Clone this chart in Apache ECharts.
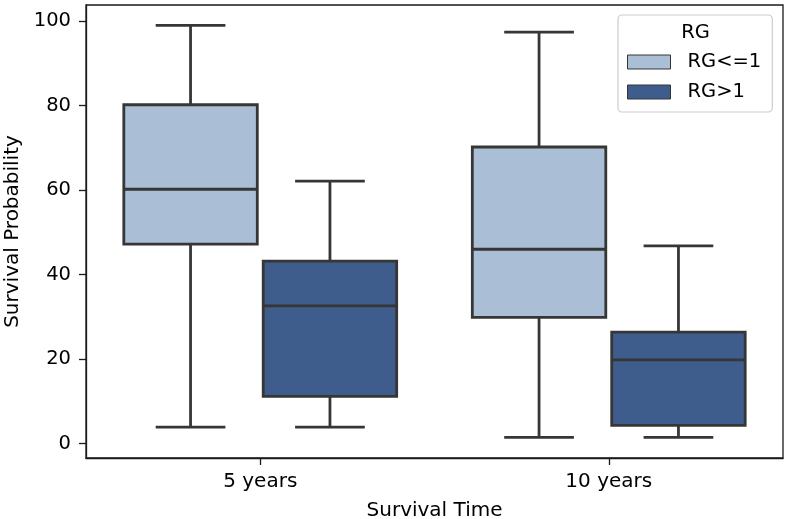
<!DOCTYPE html>
<html>
<head>
<meta charset="utf-8">
<script src="https://cdn.jsdelivr.net/npm/echarts@6/dist/echarts.min.js"></script>
<style>
html,body{margin:0;padding:0;background:#fff;}
#chart{width:787px;height:519px;}
</style>
</head>
<body>
<div id="chart"></div>
<script>
const categories = ['5 years', '10 years'];
const seriesNames = ['RG<=1', 'RG>1'];
// each entry: [lower whisker, Q1, median, Q3, upper whisker]
const rgLe1 = [[3.9, 47.2, 60.2, 80.2, 99.0], [1.5, 29.9, 46.0, 70.2, 97.4]];
const rgGt1 = [[3.9, 11.2, 32.6, 43.2, 62.1], [1.5, 4.3, 19.8, 26.4, 46.8]];
const yTicks = [0, 20, 40, 60, 80, 100];
const colors = ['#aabfd5', '#3f5d8c'];
const lineColor = '#363636';

const chart = echarts.init(document.getElementById('chart'), null, {renderer: 'canvas'});

function makeRender(offsetFrac) {
  return function (params, api) {
    const ci = api.value(0);
    const band = api.size([1, 0])[0];
    const cx = api.coord([ci, 0])[0] + offsetFrac * band;
    const yLo = api.coord([ci, api.value(1)])[1];
    const yQ1 = api.coord([ci, api.value(2)])[1];
    const yMd = api.coord([ci, api.value(3)])[1];
    const yQ3 = api.coord([ci, api.value(4)])[1];
    const yHi = api.coord([ci, api.value(5)])[1];
    const bw = band * 0.383;
    const cw = band * 0.2;
    const fill = api.visual('color');
    const ls = {stroke: lineColor, lineWidth: 2.8};
    const line = (x1, y1, x2, y2) => ({type: 'line', shape: {x1, y1, x2, y2}, style: ls});
    return {
      type: 'group',
      children: [
        line(cx, yQ3, cx, yHi),
        line(cx, yQ1, cx, yLo),
        line(cx - cw / 2, yHi, cx + cw / 2, yHi),
        line(cx - cw / 2, yLo, cx + cw / 2, yLo),
        {type: 'rect', shape: {x: cx - bw / 2, y: yQ3, width: bw, height: yQ1 - yQ3},
         style: {fill: fill, stroke: lineColor, lineWidth: 2.8}},
        line(cx - bw / 2, yMd, cx + bw / 2, yMd)
      ]
    };
  };
}

function toData(arr) {
  return arr.map((d, i) => [i].concat(d));
}

const fontFamily = 'DejaVu Sans';

chart.setOption({
  animation: false,
  backgroundColor: '#fff',
  textStyle: {fontFamily: fontFamily},
  grid: {
    left: 86, top: 5, right: 4, bottom: 61,
    containLabel: false,
    outerBoundsMode: 'none',
    show: true, borderColor: '#1a1a1a', borderWidth: 1.3, backgroundColor: 'transparent'
  },
  xAxis: {
    type: 'category',
    data: categories,
    boundaryGap: true,
    name: 'Survival Time',
    nameLocation: 'middle',
    nameGap: 43,
    nameTextStyle: {fontSize: 20, color: '#000', fontFamily: fontFamily},
    axisLine: {show: true, onZero: false, lineStyle: {color: '#1a1a1a', width: 1.3}},
    axisTick: {show: true, alignWithLabel: true, length: 7, lineStyle: {color: '#1a1a1a', width: 1.3}},
    axisLabel: {fontSize: 20, color: '#000', margin: 14, fontFamily: fontFamily},
    splitLine: {show: false}
  },
  yAxis: {
    type: 'value',
    min: -3.4,
    max: 103.8,
    name: 'Survival Probability',
    nameLocation: 'middle',
    nameGap: 63,
    nameRotate: 90,
    nameTextStyle: {fontSize: 20, color: '#000', fontFamily: fontFamily},
    axisLine: {show: true, onZero: false, lineStyle: {color: '#1a1a1a', width: 1.3}},
    axisTick: {show: true, length: 7, customValues: yTicks, lineStyle: {color: '#1a1a1a', width: 1.3}},
    axisLabel: {fontSize: 19.5, color: '#000', margin: 15, customValues: yTicks, fontFamily: fontFamily},
    splitLine: {show: false}
  },
  legend: {
    orient: 'vertical',
    left: 618,
    top: 15,
    padding: [37, 11, 10, 9],
    itemWidth: 43,
    itemHeight: 14,
    itemGap: 10,
    icon: 'rect',
    backgroundColor: '#fff',
    borderColor: '#cccccc',
    borderWidth: 1.2,
    borderRadius: 4,
    textStyle: {fontSize: 19.5, color: '#000', lineHeight: 20, padding: [0, 0, 0, 12], fontFamily: fontFamily},
    data: seriesNames.map((n, i) => ({
      name: n,
      itemStyle: {color: colors[i], borderColor: lineColor, borderWidth: 1}
    }))
  },
  graphic: [{
    type: 'text',
    z: 100,
    x: 695.5,
    y: 33,
    style: {text: 'RG', fontSize: 19.5, fontFamily: fontFamily, fill: '#000', align: 'center', verticalAlign: 'middle'}
  }],
  series: [
    {
      name: seriesNames[0],
      type: 'custom',
      renderItem: makeRender(-0.2),
      itemStyle: {color: colors[0], borderColor: lineColor, borderWidth: 1},
      encode: {x: 0, y: [1, 2, 3, 4, 5]},
      data: toData(rgLe1)
    },
    {
      name: seriesNames[1],
      type: 'custom',
      renderItem: makeRender(0.2),
      itemStyle: {color: colors[1], borderColor: lineColor, borderWidth: 1},
      encode: {x: 0, y: [1, 2, 3, 4, 5]},
      data: toData(rgGt1)
    }
  ]
});
</script>
</body>
</html>
